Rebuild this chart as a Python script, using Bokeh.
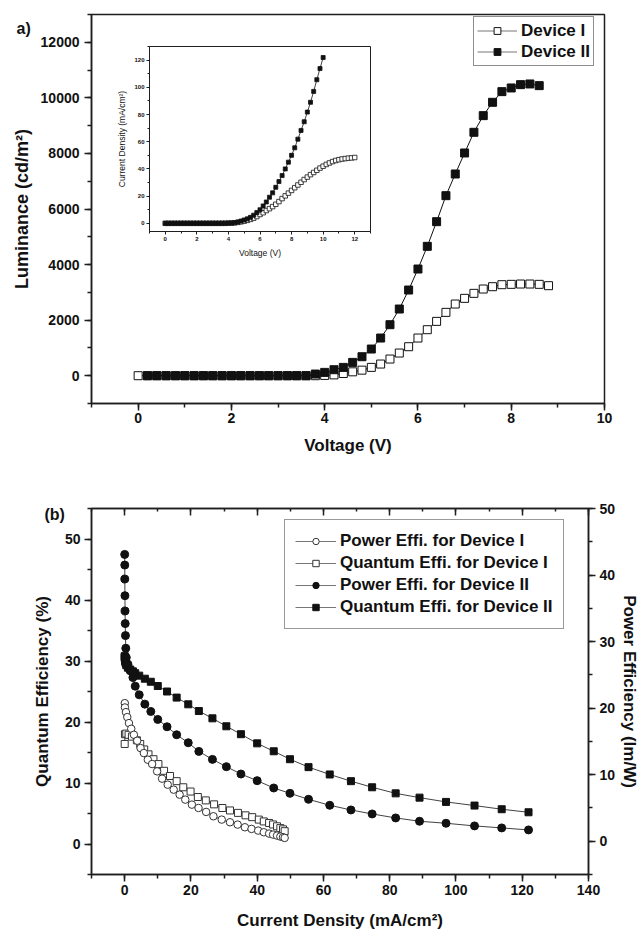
from bokeh.plotting import figure
from bokeh.models import (Range1d, LinearAxis, SingleIntervalTicker, Legend, LegendItem,
                          Label, CustomJSTickFormatter)
from bokeh.layouts import column
from bokeh.embed import file_html
from bokeh.resources import INLINE

# ---------------- data: luminance vs voltage ----------------
volt_dev1 = [0.0, 0.2, 0.4, 0.6, 0.8, 1.0, 1.2, 1.4, 1.6, 1.8, 2.0, 2.2, 2.4, 2.6, 2.8, 3.0,
             3.2, 3.4, 3.6, 3.8, 4.0, 4.2, 4.4, 4.6, 4.8, 5.0, 5.2, 5.4, 5.6, 5.8, 6.0, 6.2,
             6.4, 6.6, 6.8, 7.0, 7.2, 7.4, 7.6, 7.8, 8.0, 8.2, 8.4, 8.6, 8.8]
lum_dev1 = [0, 0, 0, 0, 0, 0, 0, 0, 0, 0, 0, 0, 0, 0, 0, 0, 0, 0, 0, 0,
            10, 30, 80, 140, 200, 300, 420, 600, 816, 1044, 1356, 1656, 1956, 2280, 2580,
            2784, 2964, 3120, 3204, 3276, 3288, 3300, 3300, 3288, 3240]
volt_dev2 = [0.2, 0.4, 0.6, 0.8, 1.0, 1.2, 1.4, 1.6, 1.8, 2.0, 2.2, 2.4, 2.6, 2.8, 3.0,
             3.2, 3.4, 3.6, 3.8, 4.0, 4.2, 4.4, 4.6, 4.8, 5.0, 5.2, 5.4, 5.6, 5.8, 6.0, 6.2,
             6.4, 6.6, 6.8, 7.0, 7.2, 7.4, 7.6, 7.8, 8.0, 8.2, 8.4, 8.6]
lum_dev2 = [0, 0, 0, 0, 0, 0, 0, 0, 0, 0, 0, 0, 0, 0, 0, 0, 0, 0,
            60, 120, 216, 300, 480, 684, 960, 1356, 1836, 2400, 3084, 3840, 4656, 5544,
            6480, 7260, 8016, 8760, 9360, 9840, 10224, 10356, 10476, 10500, 10440]

# ---------------- data: inset current density vs voltage ----------------
iv_volt_dev1 = [0.0, 0.2, 0.4, 0.6, 0.8, 1.0, 1.2, 1.4, 1.6, 1.8, 2.0, 2.2, 2.4, 2.6, 2.8,
                3.0, 3.2, 3.4, 3.6, 3.8, 4.0, 4.2, 4.4, 4.6, 4.8, 5.0, 5.2, 5.4, 5.6, 5.8,
                6.0, 6.2, 6.4, 6.6, 6.8, 7.0, 7.2, 7.4, 7.6, 7.8, 8.0, 8.2, 8.4, 8.6, 8.8,
                9.0, 9.2, 9.4, 9.6, 9.8, 10.0, 10.2, 10.4, 10.6, 10.8, 11.0, 11.2, 11.4,
                11.6, 11.8, 12.0]
iv_j_dev1 = [0, 0, 0, 0, 0, 0, 0, 0, 0, 0, 0, 0, 0, 0, 0, 0, 0, 0, 0, 0,
             0.1, 0.2, 0.4, 0.7, 1.1, 1.6, 2.2, 2.9, 3.8, 5.0, 6.5, 7.8, 9.4, 10.8, 12.3,
             14.0, 16.0, 18.2, 20.2, 22.2, 24.2, 26.2, 28.2, 30.2, 32.2, 34.0, 35.8, 37.4,
             39.0, 40.6, 42.0, 43.3, 44.4, 45.4, 46.2, 46.8, 47.3, 47.6, 47.9, 48.1, 48.4]
iv_volt_dev2 = [0.0, 0.2, 0.4, 0.6, 0.8, 1.0, 1.2, 1.4, 1.6, 1.8, 2.0, 2.2, 2.4, 2.6, 2.8,
                3.0, 3.2, 3.4, 3.6, 3.8, 4.0, 4.2, 4.4, 4.6, 4.8, 5.0, 5.2, 5.4, 5.6, 5.8,
                6.0, 6.2, 6.4, 6.6, 6.8, 7.0, 7.2, 7.4, 7.6, 7.8, 8.0, 8.2, 8.4, 8.6, 8.8,
                9.0, 9.2, 9.4, 9.6, 9.8, 10.0]
iv_j_dev2 = [0, 0, 0, 0, 0, 0, 0, 0, 0, 0, 0, 0, 0, 0, 0, 0, 0, 0, 0.05, 0.1, 0.2,
             0.3, 0.5, 1.0, 1.7, 2.5, 3.3, 4.4, 6.0, 7.9, 10.0, 12.8, 15.7, 19.2, 22.4,
             26.5, 30.7, 35.1, 40.0, 45.0, 50.0, 55.5, 61.9, 68.3, 74.7, 81.8, 89.0, 97.0,
             105.6, 113.8, 121.9]

# ---------------- data: efficiencies vs current density ----------------
pe_j_dev1 = [0.05, 0.1, 0.4, 0.8, 1.3, 2.0, 2.8, 3.8, 4.8, 5.8, 7.0, 8.3, 9.8, 11.3, 13.0,
             14.8, 16.6, 18.3, 20.3, 22.3, 24.6, 26.8, 29.3, 31.8, 34.1, 36.3, 38.3, 40.3,
             42.0, 43.6, 44.8, 46.0, 47.0, 47.8, 48.3]
pe_dev1 = [20.75, 20.1, 19.4, 18.65, 17.75, 16.9, 16.0, 15.1, 14.0, 13.25, 12.25, 11.6,
           10.5, 9.4, 8.5, 7.75, 7.0, 6.25, 5.5, 5.0, 4.4, 3.75, 3.25, 2.85, 2.5, 2.1,
           1.85, 1.6, 1.35, 1.15, 1.0, 0.85, 0.7, 0.6, 0.5]
qe_j_dev1 = [0.02, 0.1, 0.5, 1.2, 2.2, 3.7, 4.7, 5.9, 7.2, 8.7, 10.2, 11.9, 13.7, 15.7,
             17.7, 19.9, 22.1, 24.5, 27.0, 29.5, 31.8, 34.2, 36.5, 38.5, 40.5, 42.0, 43.6,
             44.8, 46.0, 47.0, 47.8, 48.3]
qe_dev1 = [16.4, 18.0, 18.1, 17.9, 17.6, 17.0, 16.4, 15.5, 14.7, 13.9, 13.1, 12.0, 11.15,
           10.3, 9.3, 8.6, 7.7, 7.15, 6.5, 5.9, 5.5, 5.1, 4.7, 4.4, 4.0, 3.7, 3.45, 3.2,
           2.9, 2.6, 2.4, 2.1]
j_dev2 = [0.02, 0.04, 0.06, 0.09, 0.13, 0.18, 0.25, 0.35, 0.5, 1.0, 1.7, 2.5, 3.2, 4.4,
          6.1, 7.9, 10.0, 12.8, 15.7, 19.2, 22.4, 26.5, 30.7, 35.1, 40.0, 45.0, 49.9, 55.5,
          61.9, 68.3, 74.7, 81.8, 89.0, 97.0, 105.6, 113.8, 121.9]
pe_dev2 = [43.1, 41.5, 39.4, 36.9, 34.6, 32.7, 30.9, 29.0, 27.6, 26.6, 25.6, 24.6, 23.3,
           22.0, 20.6, 19.5, 18.3, 17.2, 16.0, 14.8, 13.5, 12.3, 11.2, 10.1, 9.1, 8.0, 7.2,
           6.3, 5.4, 4.7, 4.1, 3.5, 3.0, 2.7, 2.3, 2.0, 1.7]
qe_dev2 = [30.8, 30.6, 30.5, 30.4, 30.2, 30.0, 29.8, 29.6, 29.3, 28.9, 28.6, 28.3, 28.0,
           27.6, 27.1, 26.6, 25.9, 25.0, 24.0, 22.9, 21.8, 20.6, 19.3, 18.0, 16.5, 15.2,
           13.9, 12.6, 11.4, 10.3, 9.3, 8.3, 7.6, 6.9, 6.3, 5.7, 5.2]

FONT = "Liberation Sans"
AX = "#1e1e1e"
INK = "#111111"
NAN = [float("nan")]


def style_axis(ax, tick_size="14px", label_size="17px", major_out=7, minor_out=4,
               tick_standoff=3, label_standoff=10, weight="bold", lw=1.5):
    ax.axis_line_color = AX
    ax.axis_line_width = lw
    ax.major_tick_line_color = AX
    ax.major_tick_line_width = lw
    ax.minor_tick_line_color = AX
    ax.minor_tick_line_width = lw
    ax.major_tick_in = 0
    ax.major_tick_out = major_out
    ax.minor_tick_in = 0
    ax.minor_tick_out = minor_out
    ax.major_label_text_font = FONT
    ax.major_label_text_font_style = weight
    ax.major_label_text_font_size = tick_size
    ax.major_label_text_color = INK
    ax.major_label_standoff = tick_standoff
    ax.axis_label_text_font = FONT
    ax.axis_label_text_font_style = weight
    ax.axis_label_text_font_size = label_size
    ax.axis_label_text_color = INK
    ax.axis_label_standoff = label_standoff


def base_fig(**kw):
    p = figure(output_backend="svg", toolbar_location=None, **kw)
    p.frame_align = False
    p.xgrid.visible = False
    p.ygrid.visible = False
    p.outline_line_color = AX
    p.outline_line_width = 1.5
    p.background_fill_color = "white"
    p.border_fill_color = "white"
    return p


def tag_fig(text, w, h, margin):
    f = figure(output_backend="svg", toolbar_location=None, frame_width=w, frame_height=h,
               x_range=Range1d(0, 1), y_range=Range1d(0, 1), min_border=0)
    f.frame_align = False
    f.axis.visible = False
    f.grid.visible = False
    f.outline_line_color = None
    f.background_fill_alpha = 0
    f.border_fill_alpha = 0
    f.margin = margin
    f.add_layout(Label(x=0, y=0.5, text=text, text_font=FONT, text_font_style="bold",
                       text_font_size="16px", text_color=INK, text_baseline="middle",
                       text_align="left"))
    return f


# ======================= (a) luminance =======================
p1 = base_fig(frame_width=513, frame_height=389, x_range=Range1d(-1, 10),
              y_range=Range1d(-1000, 13000),
              min_border_left=91, min_border_right=38, min_border_top=14, min_border_bottom=62)
p1.xaxis.ticker = SingleIntervalTicker(interval=2, num_minor_ticks=2)
p1.yaxis.ticker = SingleIntervalTicker(interval=2000, num_minor_ticks=2)
p1.xaxis.axis_label = "Voltage (V)"
p1.yaxis.axis_label = "Luminance (cd/m²)"
style_axis(p1.xaxis[0], tick_standoff=2, label_standoff=10)
style_axis(p1.yaxis[0], tick_standoff=5, label_standoff=6, label_size="18px")

p1.line(volt_dev1, lum_dev1, line_color=INK, line_width=1)
r1 = p1.scatter(volt_dev1, lum_dev1, marker="square", size=8, fill_color="white",
                line_color=INK, line_width=1)
p1.line(volt_dev2, lum_dev2, line_color=INK, line_width=1)
r2 = p1.scatter(volt_dev2, lum_dev2, marker="square", size=8, fill_color=INK,
                line_color=INK, line_width=1)
dummy1 = p1.line(NAN, NAN, line_color="#777777", line_width=1.2)

leg1 = Legend(items=[LegendItem(label="Device I", renderers=[dummy1, r1]),
                     LegendItem(label="Device II", renderers=[dummy1, r2])],
              location=(382, 337), orientation="vertical")
leg1.label_text_font = FONT
leg1.label_text_font_style = "bold"
leg1.label_text_font_size = "17px"
leg1.label_text_color = INK
leg1.glyph_width = 40
leg1.glyph_height = 17
leg1.label_height = 21
leg1.label_standoff = 4
leg1.padding = 3
leg1.spacing = 0
leg1.margin = 0
leg1.border_line_color = AX
leg1.border_line_width = 1.2
p1.add_layout(leg1)

# ======================= inset: current density =======================
pin = base_fig(frame_width=221, frame_height=185, x_range=Range1d(-1, 13),
               y_range=Range1d(-6, 130),
               min_border_left=37, min_border_right=8, min_border_top=2, min_border_bottom=31)
pin.outline_line_width = 1
pin.margin = (-421, 0, 203, 112)
pin.xaxis.ticker = SingleIntervalTicker(interval=2, num_minor_ticks=2)
pin.yaxis.ticker = SingleIntervalTicker(interval=20, num_minor_ticks=2)
pin.xaxis.axis_label = "Voltage (V)"
pin.yaxis.axis_label = "Current Density (mA/cm²)"
for ax in (pin.xaxis[0], pin.yaxis[0]):
    style_axis(ax, tick_size="6px", label_size="8.5px", major_out=3, minor_out=2,
               tick_standoff=2, label_standoff=4, weight="normal", lw=1)
    ax.major_label_text_font_style = "bold"

pin.line(iv_volt_dev1, iv_j_dev1, line_color=INK, line_width=0.8)
pin.scatter(iv_volt_dev1, iv_j_dev1, marker="square", size=4.5, fill_color="white",
            line_color=INK, line_width=0.8)
pin.line(iv_volt_dev2, iv_j_dev2, line_color=INK, line_width=0.8)
pin.scatter(iv_volt_dev2, iv_j_dev2, marker="square", size=4, fill_color=INK,
            line_color=INK, line_width=0.8)

tag_a = tag_fig("a)", 22, 20, (18 - 465, 0, 465 - 38, 16))

# ======================= (b) efficiencies =======================
p2 = base_fig(frame_width=497, frame_height=366, x_range=Range1d(-10, 140),
              y_range=Range1d(-5, 55),
              min_border_left=91, min_border_right=54, min_border_top=43, min_border_bottom=59)
p2.extra_y_ranges = {"pe": Range1d(-5, 50)}
p2.xaxis.ticker = SingleIntervalTicker(interval=20, num_minor_ticks=2)
p2.yaxis.ticker = SingleIntervalTicker(interval=10, num_minor_ticks=2)
p2.xaxis.axis_label = "Current Density (mA/cm²)"
p2.yaxis.axis_label = "Quantum Efficiency (%)"
style_axis(p2.xaxis[0], tick_standoff=3, label_standoff=13)
p2.xaxis[0].axis_label_text_line_height = 1.0
style_axis(p2.yaxis[0], tick_standoff=4, label_standoff=10)

right_ax = LinearAxis(y_range_name="pe", axis_label="Power Efficiency (lm/W)",
                      ticker=SingleIntervalTicker(interval=10, num_minor_ticks=2))
style_axis(right_ax, tick_standoff=4, label_standoff=2)
p2.add_layout(right_ax, "right")

top_ax = LinearAxis(ticker=SingleIntervalTicker(interval=20, num_minor_ticks=2),
                    formatter=CustomJSTickFormatter(code="return ''"))
style_axis(top_ax)
top_ax.major_tick_in = 7
top_ax.major_tick_out = 0
top_ax.minor_tick_in = 3
top_ax.minor_tick_out = 0
top_ax.major_label_text_font_size = "1px"
p2.add_layout(top_ax, "above")

p2.line(qe_j_dev1, qe_dev1, line_color=INK, line_width=0.8)
s1 = p2.scatter(qe_j_dev1, qe_dev1, marker="square", size=7, fill_color="white",
                line_color="#333333", line_width=1)
p2.line(pe_j_dev1, pe_dev1, line_color=INK, line_width=0.8, y_range_name="pe")
c1 = p2.scatter(pe_j_dev1, pe_dev1, marker="circle", size=7.5, fill_color="white",
                line_color="#333333", line_width=1, y_range_name="pe")
p2.line(j_dev2, qe_dev2, line_color=INK, line_width=0.8)
s2 = p2.scatter(j_dev2, qe_dev2, marker="square", size=7, fill_color=INK,
                line_color=INK, line_width=1)
p2.line(j_dev2, pe_dev2, line_color=INK, line_width=0.8, y_range_name="pe")
c2 = p2.scatter(j_dev2, pe_dev2, marker="circle", size=8, fill_color=INK,
                line_color=INK, line_width=1, y_range_name="pe")
dummy2 = p2.line(NAN, NAN, line_color="#777777", line_width=1.2)

leg2 = Legend(items=[LegendItem(label="Power Effi. for Device I", renderers=[dummy2, c1]),
                     LegendItem(label="Quantum Effi. for Device I", renderers=[dummy2, s1]),
                     LegendItem(label="Power Effi. for Device II", renderers=[dummy2, c2]),
                     LegendItem(label="Quantum Effi. for Device II", renderers=[dummy2, s2])],
              location=(193, 245), orientation="vertical")
leg2.label_text_font = FONT
leg2.label_text_font_style = "bold"
leg2.label_text_font_size = "17px"
leg2.label_text_color = INK
leg2.glyph_width = 41
leg2.glyph_height = 16
leg2.label_height = 22
leg2.label_standoff = 4
leg2.padding = 10
leg2.spacing = 0
leg2.margin = 0
leg2.border_line_color = "#333333"
leg2.border_line_width = 1.2
p2.add_layout(leg2)

tag_b = tag_fig("(b)", 28, 20, (504 - 933, 0, 933 - 524, 44))

layout = column(p1, pin, tag_a, p2, tag_b, spacing=0)
open("out.html", "w").write(file_html(layout, INLINE))
